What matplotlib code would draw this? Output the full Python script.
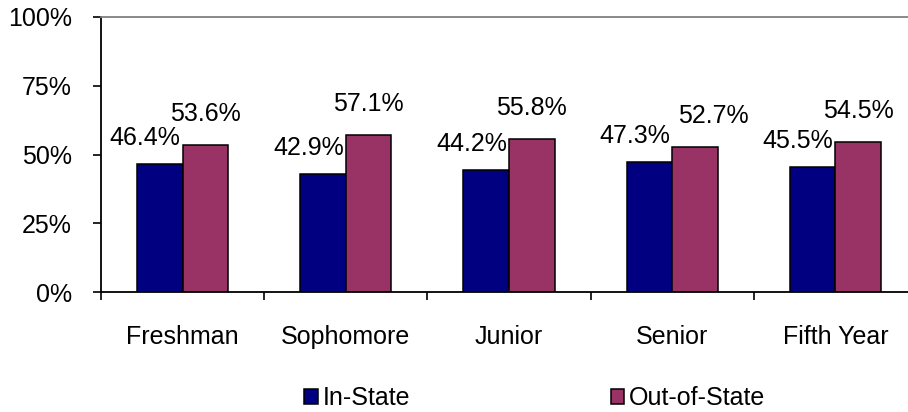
import numpy as np
import matplotlib
matplotlib.use("Agg")
import matplotlib.pyplot as plt
from matplotlib.patches import Patch

categories = ["Freshman", "Sophomore", "Junior", "Senior", "Fifth Year"]
in_state = [46.4, 42.9, 44.2, 47.3, 45.5]
out_of_state = [53.6, 57.1, 55.8, 52.7, 54.5]
series_names = ["In-State", "Out-of-State"]
y_ticks = [0, 25, 50, 75, 100]

navy = "#000080"
maroon = "#993366"
fs = 18

plt.rcParams["font.family"] = ["Liberation Sans", "DejaVu Sans"]

fig = plt.figure(figsize=(9.08, 4.12), dpi=100)
ax = fig.add_axes([101 / 908, 120 / 412, 816 / 908, 275 / 412])

x = np.arange(len(categories))
w = 0.28
ax.bar(x - w / 2, in_state, w, color=navy, edgecolor="black", linewidth=1.1)
ax.bar(x + w / 2, out_of_state, w, color=maroon, edgecolor="black", linewidth=1.1)

ax.set_xlim(-0.5, len(categories) - 0.5)
ax.set_ylim(0, 100)
ax.set_yticks(y_ticks)
ax.set_yticklabels([f"{v}%" for v in y_ticks], fontsize=fs)
ax.set_xticks(np.arange(len(categories) + 1) - 0.5)
ax.set_xticklabels([])
ax.set_xticks(x, minor=True)
ax.set_xticklabels(categories, minor=True, fontsize=fs)
ax.tick_params(axis="x", which="major", direction="out", length=6, width=1.2)
ax.tick_params(axis="x", which="minor", length=0, pad=24)
ax.tick_params(axis="y", direction="out", length=6, width=1.2, pad=15)

ax.spines["right"].set_visible(False)
ax.spines["top"].set_color("#808080")
ax.spines["top"].set_linewidth(1.3)
ax.spines["left"].set_linewidth(1.3)
ax.spines["bottom"].set_linewidth(1.3)

# value labels, nudge the out-of-state one if it collides
fig.canvas.draw()
renderer = fig.canvas.get_renderer()
for i in range(len(categories)):
    t1 = ax.annotate(f"{in_state[i]:.1f}%", (x[i], in_state[i]),
                     xytext=(-2, 14), textcoords="offset pixels",
                     ha="right", va="bottom", fontsize=fs)
    t2 = ax.annotate(f"{out_of_state[i]:.1f}%", (x[i] + w / 2, out_of_state[i]),
                     xytext=(0, 19), textcoords="offset pixels",
                     ha="center", va="bottom", fontsize=fs)
    e1 = t1.get_window_extent(renderer)
    e2 = t2.get_window_extent(renderer)
    if e1.overlaps(e2):
        shift = e1.x1 - e2.x0 + 8
        t2.xyann = (shift, 19)

handles = [Patch(facecolor=navy, edgecolor="black", linewidth=1.1),
           Patch(facecolor=maroon, edgecolor="black", linewidth=1.1)]
fig.legend(handles, series_names, loc="center", bbox_to_anchor=(535 / 908, 14 / 412),
           ncol=2, frameon=False, fontsize=fs, handlelength=0.55, handleheight=0.55,
           handletextpad=0.2, columnspacing=8.0, borderpad=0)

fig.savefig("out.png", dpi=100)
